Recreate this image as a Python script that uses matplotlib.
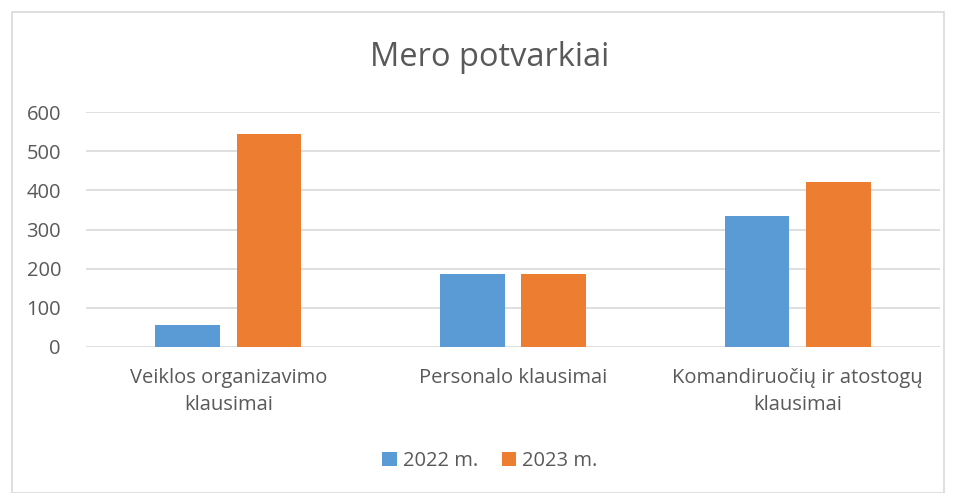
import numpy as np
import matplotlib
matplotlib.use("Agg")
import matplotlib.pyplot as plt
from matplotlib.patches import Rectangle

categories = ["Veiklos organizavimo\nklausimai", "Personalo klausimai",
              "Komandiruočių ir atostogų\nklausimai"]
vals_2022 = [55, 186, 335]
vals_2023 = [545, 186, 420]
series_names = ["2022 m.", "2023 m."]
yticks = [0, 100, 200, 300, 400, 500, 600]

BLUE = "#5B9BD5"; ORANGE = "#ED7D31"; TXT = "#595959"; GRID = "#D9D9D9"

plt.rcParams["font.family"] = ["Open Sans", "DejaVu Sans"]

fig = plt.figure(figsize=(9.56, 4.93), dpi=100)
fig.patches.append(Rectangle((12/956, 0.0), 1 - 24/956, 1 - 12/493, transform=fig.transFigure,
                             fill=False, edgecolor="#D9D9D9", linewidth=1.2))

ax = fig.add_axes([86/956, 1 - 347/493, (940 - 86)/956, (347 - 112)/493])
x = np.arange(len(categories))
w = 0.228
off = 0.143
ax.bar(x - off, vals_2022, w, color=BLUE, label=series_names[0], zorder=3)
ax.bar(x + off, vals_2023, w, color=ORANGE, label=series_names[1], zorder=3)

ax.set_xlim(-0.5, len(categories) - 0.5)
ax.set_ylim(0, 600)
ax.set_yticks(yticks)
ax.yaxis.grid(True, color=GRID, linewidth=1.2, zorder=0)
for s in ax.spines.values():
    s.set_visible(False)
ax.tick_params(axis="both", length=0, labelsize=14.5, colors=TXT)
ax.tick_params(axis="y", pad=18)
ax.set_xticks(x)
ax.set_xticklabels(categories, linespacing=1.45)
ax.tick_params(axis="x", pad=15)

fig.text(490/956, 1 - 58/493, "Mero potvarkiai", ha="center", va="center",
         fontsize=23.5, color=TXT)

ax.legend(loc="center", bbox_to_anchor=(490/956, 1 - 461/493), bbox_transform=fig.transFigure,
          ncol=2, frameon=False, fontsize=14.5, labelcolor=TXT,
          handlelength=0.7, handleheight=0.7, handletextpad=0.3, columnspacing=1.2)

fig.savefig("out.png", dpi=100)
